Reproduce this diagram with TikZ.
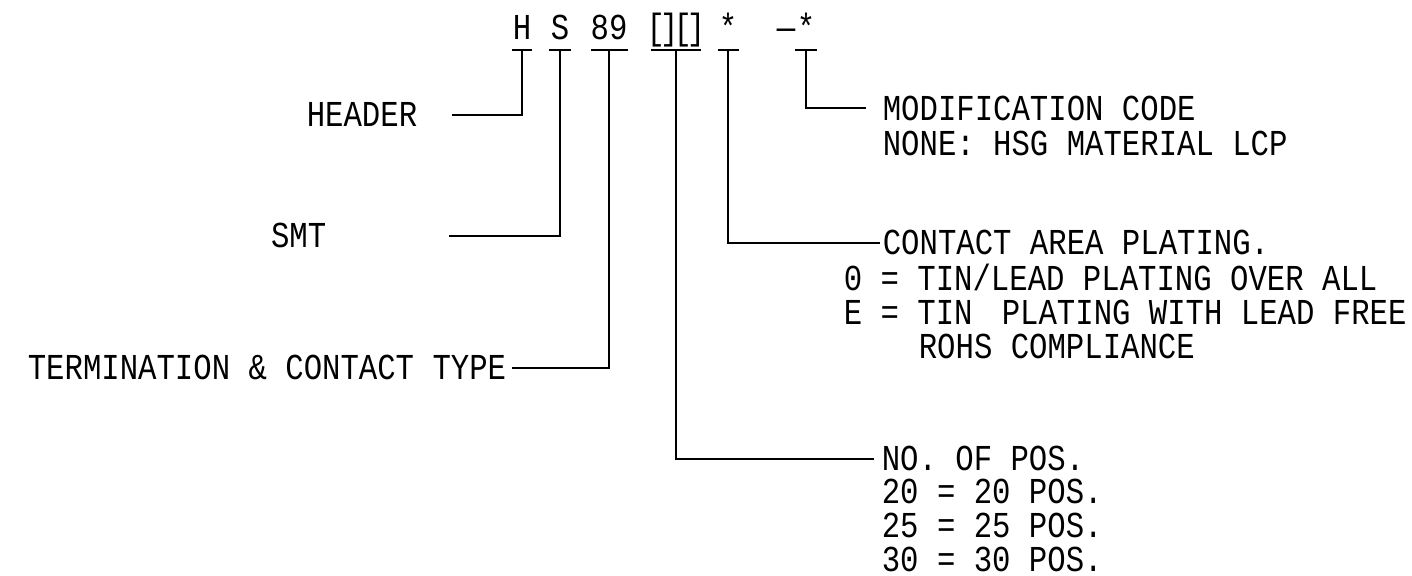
\documentclass[tikz,border=0pt]{standalone}
\usepackage{fontspec}
\setmonofont{Liberation Mono}[FakeStretch=0.84]
\usetikzlibrary{positioning}
\tikzset{
    ma/.style={font=\ttfamily\fontsize{36.5}{40}\selectfont, inner sep=0pt, text height=21.5pt, text depth=0pt}
}
\begin{document}
\begin{tikzpicture}[x=1pt,y=-1pt,line width=1.6pt]
    \useasboundingbox (0,0) rectangle (1412,575);
    % Mã sản phẩm
    \node[ma,anchor=base] (cH) at (522,40) {H};
    \node[ma,anchor=base] (cS) at (560,40) {S};
    \node[ma,anchor=base] (c89) at (609,40) {89};
    \node[ma,anchor=base] (cPos) at (676,40) {[\kern-5pt]\kern-5pt[\kern-5pt]};
    \node[ma,anchor=base] (cPlat) at (728,40) {*};
    \node[ma,anchor=base] (cMod) at (806,40) {*};
    \node[ma,left=0pt of cMod] (cDash) {—};

    % Gạch dưới từng phần mã
    \foreach \n/\w in {H/10,S/11,89/18.5,Pos/25,Plat/10.5,Mod/11}{
        \coordinate (b\n) at (c\n.center |- 0,50);
        \draw ([xshift=-\w pt]b\n) -- ([xshift=\w pt]b\n);
    }

    % Nhãn bên trái
    \node[ma,anchor=base east] (lHeader) at (418,126) {HEADER};
    \node[ma,anchor=base east] (lSmt) at (327,247) {SMT};
    \node[ma,anchor=base east] (lTerm) at (507,379) {TERMINATION \& CONTACT TYPE};

    % Nhãn bên phải
    \node[ma,anchor=base west] (lMod) at (882,121) {MODIFICATION CODE};
    \node[ma,anchor=base west] (lModA) at (882,155) {NONE: HSG MATERIAL LCP};
    \node[ma,anchor=base west] (lPlat) at (882,254) {CONTACT AREA PLATING.};
    \node[ma,anchor=base west] (lPlatA) at (843,290) {0 = TIN/LEAD PLATING OVER ALL};
    \node[ma,anchor=base west] (lPlatB) at (843,324) {E = TIN\hspace{0.8em}PLATING WITH LEAD FREE};
    \node[ma,anchor=base west] (lPlatC) at (918,358) {ROHS COMPLIANCE};
    \node[ma,anchor=base west] (lPos) at (881,470) {NO. OF POS.};
    \foreach \k/\y in {20/503,25/537,30/571}
    \node[ma,anchor=base west] (lPos\k) at (881,\y) {\k\ =\ \k\ POS.};

    % Đường dẫn
    \draw (bH) |- ([xshift=34pt]lHeader.east);
    \draw (bS) |- ([xshift=122pt]lSmt.east);
    \draw (b89) |- ([xshift=5pt]lTerm.east);
    \draw (bPos) |- ([xshift=-7pt]lPos.west);
    \draw (bPlat) |- ([xshift=-2pt]lPlat.west);
    \draw (bMod) |- ([xshift=-16pt,yshift=2pt]lMod.west);
\end{tikzpicture}
\end{document}
